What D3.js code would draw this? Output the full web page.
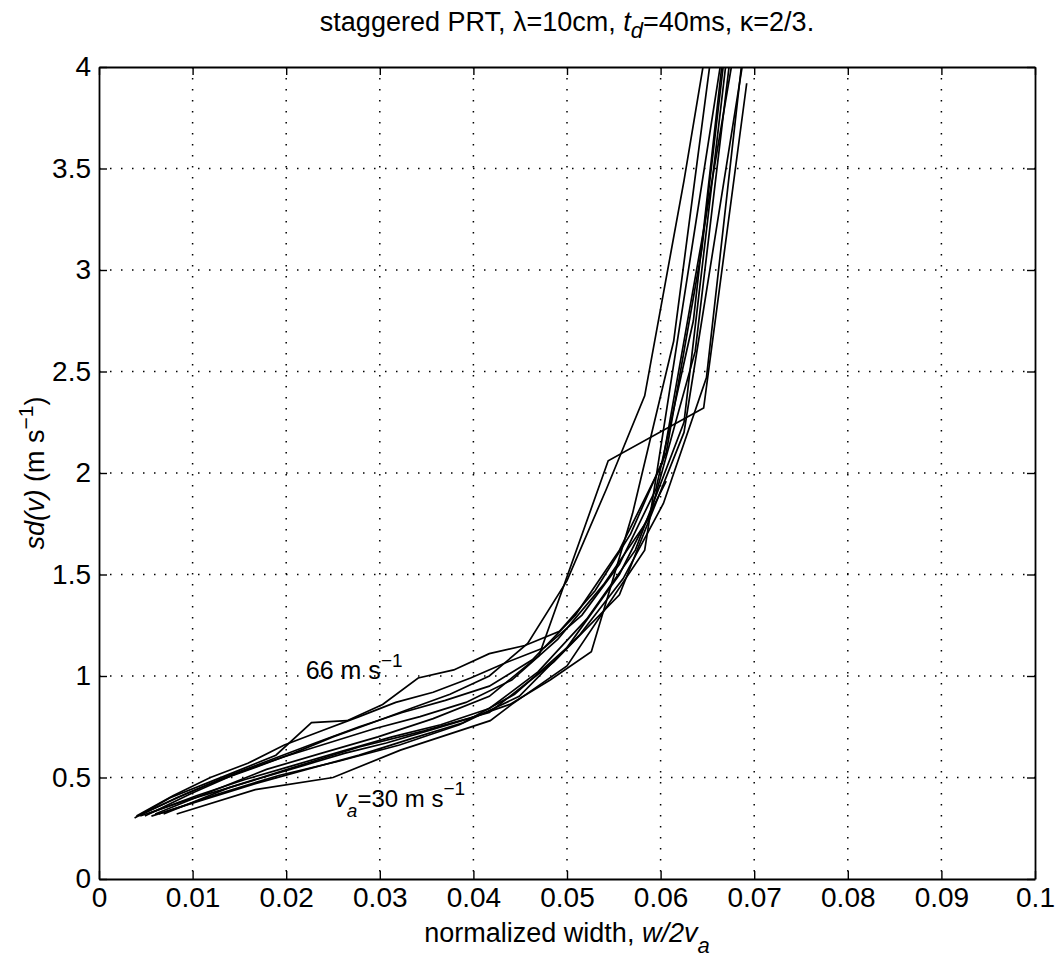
<!DOCTYPE html>
<html><head><meta charset="utf-8">
<script src="https://cdn.jsdelivr.net/npm/d3@7"></script>
<style>
body{margin:0;background:#fff}
svg{display:block}
text{font-family:"Liberation Sans",Arial,Helvetica,sans-serif;fill:#000}
</style>
</head><body>
<svg id="chart" width="1057" height="962"></svg>
<script>
// ---- tick values / labels ----
const xTicks = [0,0.01,0.02,0.03,0.04,0.05,0.06,0.07,0.08,0.09,0.1];
const xTickLabels = ["0","0.01","0.02","0.03","0.04","0.05","0.06","0.07","0.08","0.09","0.1"];
const yTicks = [0,0.5,1,1.5,2,2.5,3,3.5,4];
const yTickLabels = ["0","0.5","1","1.5","2","2.5","3","3.5","4"];

// ---- curves: [normalized width, sd(v)] ----
const curve66 = [[0.0038,0.30],[0.0076,0.40],[0.0114,0.47],[0.0152,0.54],[0.0189,0.61],[0.0227,0.77],[0.0265,0.78],[0.0303,0.86],[0.0341,0.99],[0.0379,1.03],[0.0417,1.11],[0.0455,1.15],[0.0492,1.22],[0.0530,1.42],[0.0568,1.70],[0.0606,2.10],[0.0644,3.10],[0.0682,4.60]];
const curve63 = [[0.0040,0.31],[0.0079,0.41],[0.0119,0.50],[0.0159,0.57],[0.0198,0.66],[0.0238,0.73],[0.0278,0.80],[0.0317,0.87],[0.0357,0.92],[0.0397,0.99],[0.0437,1.07],[0.0476,1.14],[0.0516,1.30],[0.0556,1.55],[0.0595,1.92],[0.0635,2.75],[0.0675,4.40]];
const curve60 = [[0.0042,0.31],[0.0083,0.40],[0.0125,0.48],[0.0167,0.55],[0.0208,0.62],[0.0250,0.70],[0.0292,0.77],[0.0333,0.84],[0.0375,0.91],[0.0417,1.00],[0.0458,1.16],[0.0500,1.47],[0.0542,1.92],[0.0583,2.38],[0.0625,3.44],[0.0667,4.60]];
const curve57 = [[0.0044,0.31],[0.0088,0.38],[0.0132,0.44],[0.0175,0.50],[0.0219,0.56],[0.0263,0.62],[0.0307,0.67],[0.0351,0.73],[0.0395,0.79],[0.0439,0.86],[0.0482,0.98],[0.0526,1.12],[0.0570,1.80],[0.0614,2.65],[0.0658,4.20]];
const curve54 = [[0.0046,0.32],[0.0093,0.42],[0.0139,0.51],[0.0185,0.59],[0.0231,0.67],[0.0278,0.75],[0.0324,0.82],[0.0370,0.88],[0.0417,0.95],[0.0463,1.08],[0.0509,1.30],[0.0556,1.62],[0.0602,2.05],[0.0648,3.25],[0.0694,4.50]];
const curve51 = [[0.0049,0.31],[0.0098,0.42],[0.0147,0.52],[0.0196,0.60],[0.0245,0.67],[0.0294,0.74],[0.0343,0.80],[0.0392,0.87],[0.0441,0.98],[0.0490,1.18],[0.0539,1.45],[0.0588,1.78],[0.0637,2.60],[0.0686,4.50]];
const curve48 = [[0.0052,0.32],[0.0104,0.41],[0.0156,0.49],[0.0208,0.56],[0.0260,0.63],[0.0313,0.70],[0.0365,0.76],[0.0417,0.84],[0.0469,1.02],[0.0521,1.28],[0.0573,1.62],[0.0625,2.25],[0.0677,4.30]];
const curve45 = [[0.0056,0.31],[0.0111,0.39],[0.0167,0.47],[0.0222,0.54],[0.0278,0.61],[0.0333,0.69],[0.0389,0.77],[0.0444,0.91],[0.0500,1.14],[0.0556,1.50],[0.0606,1.96]];
const curve42 = [[0.0060,0.32],[0.0119,0.43],[0.0179,0.54],[0.0238,0.62],[0.0298,0.70],[0.0357,0.79],[0.0417,0.90],[0.0470,1.10],[0.0544,2.06],[0.0646,2.32],[0.0692,3.92]];
const curve39 = [[0.0064,0.32],[0.0128,0.42],[0.0192,0.51],[0.0256,0.58],[0.0321,0.66],[0.0385,0.76],[0.0449,0.90],[0.0513,1.20],[0.0560,1.48],[0.0603,1.85],[0.0649,2.47],[0.0696,4.40]];
const curve36 = [[0.0069,0.32],[0.0139,0.45],[0.0208,0.55],[0.0278,0.65],[0.0347,0.73],[0.0417,0.82],[0.0486,1.07],[0.0556,1.40],[0.0625,2.20],[0.0694,4.20]];
const curve30 = [[0.0083,0.32],[0.0167,0.44],[0.0250,0.50],[0.0322,0.635],[0.0418,0.78],[0.0441,0.86],[0.0500,1.05],[0.0583,1.62],[0.0667,4.10]];
const curves = [curve66,curve63,curve60,curve57,curve54,curve51,curve48,curve45,curve42,curve39,curve36,curve30];

// ---- layout ----
const W = 1057, H = 962;
const m = {left:99, right:22, top:67, bottom:83};
const pw = W - m.left - m.right, ph = H - m.top - m.bottom;

const svg = d3.select("#chart");
const x = d3.scaleLinear().domain([0,0.1]).range([m.left, m.left+pw]);
const y = d3.scaleLinear().domain([0,4]).range([m.top+ph, m.top]);

svg.append("defs").append("clipPath").attr("id","plotclip")
  .append("rect").attr("x",m.left).attr("y",m.top).attr("width",pw).attr("height",ph);

// grid
const grid = svg.append("g");
grid.selectAll("line.gx").data(xTicks.slice(1,-1)).join("line")
  .attr("x1",d=>x(d)).attr("x2",d=>x(d)).attr("y1",m.top).attr("y2",m.top+ph)
  .attr("stroke","#000").attr("stroke-width",1.5).attr("stroke-dasharray","1.5,9.5");
grid.selectAll("line.gy").data(yTicks.slice(1,-1)).join("line")
  .attr("y1",d=>y(d)).attr("y2",d=>y(d)).attr("x1",m.left).attr("x2",m.left+pw)
  .attr("stroke","#000").attr("stroke-width",1.5).attr("stroke-dasharray","1.5,9.5");

// curves
const line = d3.line().x(d=>x(d[0])).y(d=>y(d[1]));
svg.append("g").attr("clip-path","url(#plotclip)")
  .selectAll("path").data(curves).join("path")
  .attr("d",line).attr("fill","none").attr("stroke","#000").attr("stroke-width",1.7)
  .attr("stroke-linejoin","miter");

// axes (MATLAB style box with inward ticks on all sides)
const tickLen = 8;
const fontTick = 28;
const axB = svg.append("g").attr("transform",`translate(0,${m.top+ph})`)
  .call(d3.axisBottom(x).tickValues(xTicks).tickFormat((d,i)=>xTickLabels[i]).tickSizeInner(-tickLen).tickSizeOuter(0).tickPadding(8));
const axT = svg.append("g").attr("transform",`translate(0,${m.top})`)
  .call(d3.axisTop(x).tickValues(xTicks).tickFormat("").tickSizeInner(-tickLen).tickSizeOuter(0));
const axL = svg.append("g").attr("transform",`translate(${m.left},0)`)
  .call(d3.axisLeft(y).tickValues(yTicks).tickFormat((d,i)=>yTickLabels[i]).tickSizeInner(-tickLen).tickSizeOuter(0).tickPadding(8));
const axR = svg.append("g").attr("transform",`translate(${m.left+pw},0)`)
  .call(d3.axisRight(y).tickValues(yTicks).tickFormat("").tickSizeInner(-tickLen).tickSizeOuter(0));
[axB,axT,axL,axR].forEach(a=>{
  a.select(".domain").attr("stroke","#000").attr("stroke-width",1.8);
  a.selectAll(".tick line").attr("stroke","#000").attr("stroke-width",1.4);
  a.selectAll(".tick text").attr("font-size",fontTick).attr("font-family",'"Liberation Sans",Arial,sans-serif').attr("fill","#000");
});
axB.selectAll(".tick text").attr("dy","0.72em");

// title
const title = svg.append("text").attr("x",m.left+pw/2).attr("y",31).attr("text-anchor","middle").attr("font-size",27);
title.append("tspan").text("staggered PRT, λ=10cm, ");
title.append("tspan").attr("font-style","italic").text("t");
title.append("tspan").attr("font-style","italic").attr("font-size",22).attr("dy",7).text("d");
title.append("tspan").attr("dy",-7).text("=40ms, κ=2/3.");

// x label
const xl = svg.append("text").attr("x",m.left+pw/2).attr("y",942).attr("text-anchor","middle").attr("font-size",27);
xl.append("tspan").text("normalized width, ");
xl.append("tspan").attr("font-style","italic").text("w/2v");
xl.append("tspan").attr("font-style","italic").attr("font-size",22).attr("dy",11).text("a");

// y label
const yl = svg.append("text").attr("transform",`translate(44,${m.top+ph/2}) rotate(-90)`).attr("text-anchor","middle").attr("font-size",27);
yl.append("tspan").attr("font-style","italic").text("sd(v)");
yl.append("tspan").text(" (m s");
yl.append("tspan").attr("font-size",21).attr("dy",-11).text("−1");
yl.append("tspan").attr("dy",11).text(")");

// annotations
const a1 = svg.append("text").attr("x",x(0.0221)).attr("y",y(0.985)).attr("font-size",25);
a1.append("tspan").text("66 m s");
a1.append("tspan").attr("font-size",19).attr("dy",-12).text("−1");

const a2 = svg.append("text").attr("x",x(0.0252)).attr("y",y(0.355)).attr("font-size",24);
a2.append("tspan").attr("font-style","italic").text("v");
a2.append("tspan").attr("font-style","italic").attr("font-size",19).attr("dy",10).text("a");
a2.append("tspan").attr("dy",-10).text("=30 m s");
a2.append("tspan").attr("font-size",19).attr("dy",-12).text("−1");
</script>
</body></html>
